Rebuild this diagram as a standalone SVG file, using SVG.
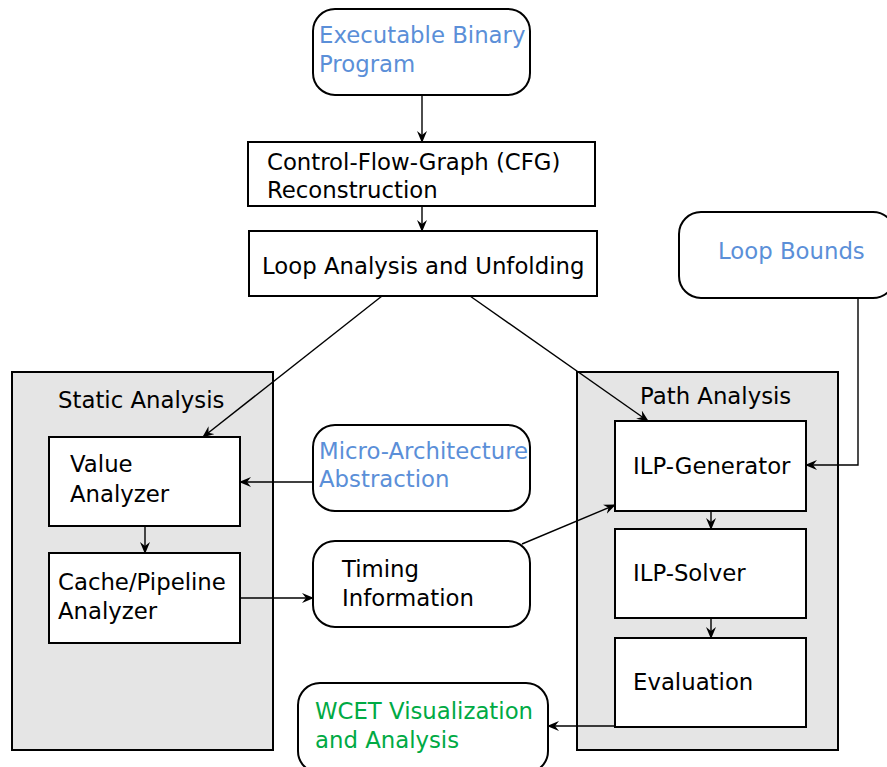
<svg xmlns="http://www.w3.org/2000/svg" width="887" height="767" viewBox="0 0 887 767">
  <style>
    .box { fill: #ffffff; stroke: #000000; stroke-width: 2; }
    .panel { fill: #e5e5e5; stroke: #000000; stroke-width: 2; }
    .t { font-family: "DejaVu Sans", "Liberation Sans", sans-serif; font-size: 22.8px; fill: #000000; }
    .blue { fill: #5b8fd8; }
    .green { fill: #00aa44; }
    .edge { fill: none; stroke: #000000; stroke-width: 1.4; marker-end: url(#arr); }
  </style>
  <defs>
    <marker id="arr" viewBox="0 0 12 10" refX="11" refY="5" markerWidth="12" markerHeight="10" markerUnits="userSpaceOnUse" orient="auto">
      <path d="M0,0 L12,5 L0,10 L4,5 Z" fill="#000000"/>
    </marker>
  </defs>

  <!-- panels -->
  <g id="static-analysis">
    <rect class="panel" x="12" y="372" width="261" height="378"/>
    <text class="t" x="58" y="408">Static Analysis</text>
  </g>
  <g id="path-analysis">
    <rect class="panel" x="577" y="372" width="261" height="378"/>
    <text class="t" x="640" y="404">Path Analysis</text>
  </g>

  <!-- nodes -->
  <g id="binary">
    <rect class="box" x="313" y="9" width="217" height="86" rx="22"/>
    <text class="t blue" x="319" y="43">Executable Binary</text>
    <text class="t blue" x="319" y="72">Program</text>
  </g>
  <g id="cfg">
    <rect class="box" x="248" y="142" width="347" height="64"/>
    <text class="t" x="267" y="170">Control-Flow-Graph (CFG)</text>
    <text class="t" x="267" y="198">Reconstruction</text>
  </g>
  <g id="loop-analysis">
    <rect class="box" x="249" y="231" width="348" height="65"/>
    <text class="t" x="262" y="274">Loop Analysis and Unfolding</text>
  </g>
  <g id="loop-bounds">
    <rect class="box" x="679" y="212" width="216" height="86" rx="22"/>
    <text class="t blue" x="718" y="259">Loop Bounds</text>
  </g>
  <g id="value-analyzer">
    <rect class="box" x="49" y="437" width="191" height="89"/>
    <text class="t" x="70" y="472">Value</text>
    <text class="t" x="70" y="502">Analyzer</text>
  </g>
  <g id="cache-pipeline">
    <rect class="box" x="49" y="553" width="191" height="90"/>
    <text class="t" x="58" y="590">Cache/Pipeline</text>
    <text class="t" x="58" y="619">Analyzer</text>
  </g>
  <g id="micro-arch">
    <rect class="box" x="313" y="425" width="217" height="86" rx="22"/>
    <text class="t blue" x="319" y="459">Micro-Architecture</text>
    <text class="t blue" x="319" y="487">Abstraction</text>
  </g>
  <g id="timing">
    <rect class="box" x="313" y="541" width="217" height="86" rx="22"/>
    <text class="t" x="342" y="577">Timing</text>
    <text class="t" x="342" y="606">Information</text>
  </g>
  <g id="ilp-generator">
    <rect class="box" x="615" y="421" width="191" height="90"/>
    <text class="t" x="633" y="474">ILP-Generator</text>
  </g>
  <g id="ilp-solver">
    <rect class="box" x="615" y="529" width="191" height="89"/>
    <text class="t" x="633" y="581">ILP-Solver</text>
  </g>
  <g id="evaluation">
    <rect class="box" x="615" y="638" width="191" height="89"/>
    <text class="t" x="633" y="690">Evaluation</text>
  </g>
  <g id="wcet">
    <rect class="box" x="298" y="683" width="250" height="90" rx="22"/>
    <text class="t green" x="315" y="719">WCET Visualization</text>
    <text class="t green" x="315" y="748">and Analysis</text>
  </g>

  <!-- connectors -->
  <g id="connectors">
    <path class="edge" d="M422,95 L422,142"/>
    <path class="edge" d="M422,206 L422,231"/>
    <path class="edge" d="M382,296 L203,437"/>
    <path class="edge" d="M470,296 L648,421"/>
    <path class="edge" d="M858,298 L858,465 L806,465"/>
    <path class="edge" d="M313,482 L240,482"/>
    <path class="edge" d="M145,526 L145,553"/>
    <path class="edge" d="M240,598 L313,598"/>
    <path class="edge" d="M522,544 L615,505"/>
    <path class="edge" d="M711,511 L711,529"/>
    <path class="edge" d="M711,618 L711,638"/>
    <path class="edge" d="M615,726 L548,726"/>
  </g>
</svg>
